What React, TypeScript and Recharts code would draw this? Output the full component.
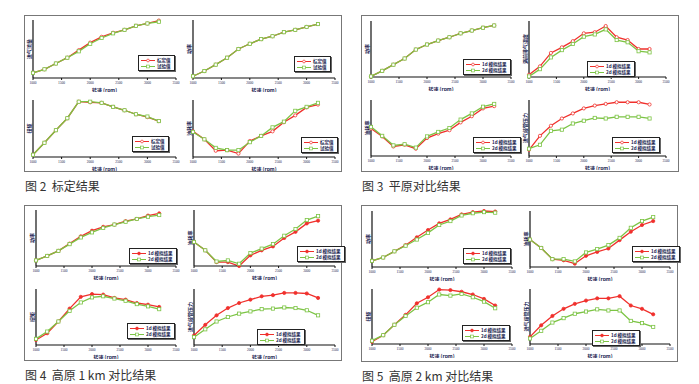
import { LineChart, Line, XAxis, YAxis, Legend } from 'recharts';

// 转速 (rpm)
const rpm = [1000, 1200, 1400, 1600, 1800, 2000, 2200, 2400, 2600, 2800, 3000, 3200];
const xTicks = [1000, 1500, 2000, 2500, 3000, 3500];
const yTicks = [0, 12.5, 25, 37.5, 50, 62.5, 75, 87.5, 100];

// 图2 标定结果 (标定值 / 试验值)
const f2aCal = [9, 15, 25, 35, 48, 61, 71, 78, 83, 90, 94, 99];
const f2aTest = [9, 15, 25, 35, 46, 59, 69, 77, 83, 90, 94, 97];
const f2bCal = [3, 12, 23, 35, 50, 59, 67, 72, 79, 83, 88, 93];
const f2bTest = [3, 12, 23, 35, 50, 59, 67, 72, 79, 83, 88, 93];
const f2cCal = [4, 25, 47, 68, 97, 96, 95, 88, 82, 75, 70, 63];
const f2cTest = [4, 25, 47, 68, 97, 97, 95, 88, 82, 75, 71, 63];
const f2dCal = [45, 31, 11, 12, 6, 28, 37, 45, 61, 73, 87, 92];
const f2dTest = [44, 31, 16, 12, 12, 26, 37, 52, 62, 81, 88, 95];

// 图3 平原对比结果
const f3aR = [1, 11, 22, 33, 49, 58, 65, 71, 78, 83, 88, 92];
const f3aG = [1, 11, 22, 33, 49, 58, 65, 71, 78, 83, 88, 92];
const f3bR = [4, 19, 43, 53, 64, 78, 80, 91, 71, 66, 50, 50];
const f3bG = [1, 14, 35, 48, 59, 72, 76, 85, 66, 62, 46, 44];
const f3cR = [49, 35, 17, 20, 13, 32, 40, 46, 60, 71, 85, 89];
const f3cG = [52, 36, 19, 21, 15, 35, 43, 50, 65, 76, 88, 93];
const f3dR = [11, 36, 54, 67, 76, 85, 90, 93, 96, 96, 96, 92];
const f3dG = [13, 20, 45, 47, 58, 63, 68, 67, 70, 70, 70, 67];

// 图4 高原 1 km 对比结果
const f4aR = [10, 18, 27, 40, 53, 63, 70, 74, 80, 84, 90, 94];
const f4aG = [10, 18, 27, 39, 51, 60, 68, 74, 79, 84, 88, 91];
const f4bR = [43, 28, 7, 7, 0, 19, 28, 35, 50, 61, 76, 81];
const f4bG = [43, 28, 8, 10, 4, 23, 31, 39, 54, 66, 82, 89];
const f4cR = [9, 21, 42, 65, 86, 91, 90, 84, 81, 75, 72, 68];
const f4cG = [11, 24, 42, 61, 76, 85, 87, 83, 79, 73, 69, 64];
const f4dR = [17, 36, 53, 66, 75, 81, 87, 89, 93, 93, 92, 84];
const f4dG = [14, 28, 42, 50, 56, 60, 64, 65, 67, 66, 62, 53];

// 图5 高原 2 km 对比结果
const f5aR = [11, 17, 28, 39, 53, 66, 78, 85, 94, 98, 100, 99];
const f5aG = [11, 17, 28, 38, 49, 61, 75, 82, 92, 96, 98, 97];
const f5bR = [49, 34, 14, 12, 6, 20, 27, 33, 48, 63, 75, 82];
const f5bG = [49, 34, 14, 14, 10, 26, 32, 39, 52, 70, 82, 89];
const f5cR = [4, 16, 35, 53, 74, 85, 99, 98, 95, 90, 82, 70];
const f5cG = [6, 16, 35, 51, 66, 76, 90, 88, 91, 85, 77, 65];
const f5dR = [13, 34, 51, 64, 73, 79, 83, 83, 87, 70, 64, 54];
const f5dG = [10, 24, 39, 47, 55, 59, 63, 61, 61, 42, 38, 31];

const RED = '#f0302c';
const GREEN = '#7cc444';
const FONT = '"Noto Sans CJK SC", "Noto Sans", sans-serif';
const W_Y = 12;
const H_X = 14;
const M_T = 2;
const M_R = 6;

const calNames = ['标定值', '试验值'];
const simNames = ['1d 模拟结果', '2d 模拟结果'];

const redDot = (filled: boolean) => (p: any) => {
  if (p.cx == null || p.cy == null) return <g />;
  return <circle cx={p.cx} cy={p.cy} r={1.6} fill={filled ? RED : '#fff'} stroke={RED} strokeWidth={0.8} />;
};

const greenDot = (p: any) => {
  if (p.cx == null || p.cy == null) return <g />;
  return <rect x={p.cx - 1.6} y={p.cy - 1.6} width={3.2} height={3.2} fill="#fff" stroke={GREEN} strokeWidth={0.8} />;
};

const yLabel = (text: string) => (props: any) => {
  const vb = props.viewBox || {};
  const cx = vb.x + vb.width - 5;
  const cy = vb.y + vb.height / 2;
  return (
    <text x={cx} y={cy} transform={`rotate(-90 ${cx} ${cy})`} textAnchor="middle" dominantBaseline="central"
      fontSize={5} fontWeight="bold" fill="#1a2450" fontFamily={FONT}>
      {text}
    </text>
  );
};

function LegendBox({ names, filled }: { names: string[]; filled: boolean }) {
  const row = (i: number) => (
    <div key={i} style={{ display: 'flex', alignItems: 'center', height: 6, lineHeight: '6px' }}>
      <svg width={14} height={5} style={{ display: 'block' }}>
        <line x1={0} y1={2.5} x2={14} y2={2.5} stroke={i === 0 ? RED : GREEN} strokeWidth={1} />
        {i === 0 ? (
          <circle cx={7} cy={2.5} r={1.4} fill={filled ? RED : '#fff'} stroke={RED} strokeWidth={0.7} />
        ) : (
          <rect x={5.6} y={1.1} width={2.8} height={2.8} fill="#fff" stroke={GREEN} strokeWidth={0.7} />
        )}
      </svg>
      <span style={{ marginLeft: 2, fontSize: 4.5, lineHeight: '6px', color: '#1a2450', fontWeight: 'bold', whiteSpace: 'nowrap' }}>{names[i]}</span>
    </div>
  );
  return (
    <div style={{ border: '1px solid #222', boxShadow: '1px 1px 0 #666', background: '#fff', padding: '1px 3px 1px 2px', fontFamily: FONT, lineHeight: '6px' }}>
      {row(0)}
      {row(1)}
    </div>
  );
}

type SubProps = {
  rect: number[];
  red: number[];
  green: number[];
  names: string[];
  label: string;
  legendAt: number[];
  filled: boolean;
};

function Sub({ rect, red, green, names, label, legendAt, filled }: SubProps) {
  const [left, top, w, h] = rect;
  const data = rpm.map((r, i) => ({ rpm: r, a: red[i], b: green[i] }));
  return (
    <div style={{ position: 'absolute', left: left - W_Y, top: top - M_T }}>
      <LineChart width={w + W_Y + M_R} height={h + H_X + M_T} data={data} margin={{ top: M_T, right: M_R, bottom: 0, left: 0 }}>
        <XAxis dataKey="rpm" type="number" domain={[1000, 3500]} ticks={xTicks} interval={0} height={H_X} tickSize={2}
          tick={{ fontSize: 3.5, fill: '#1a2450' }} axisLine={{ stroke: '#111', strokeWidth: 1.2 }} tickLine={{ stroke: '#111' }}
          label={{ value: '转速 (rpm)', position: 'insideBottom', offset: 0, fontSize: 5, fontWeight: 'bold', fill: '#1a2450', fontFamily: FONT }} />
        <XAxis xAxisId="top" orientation="top" dataKey="rpm" type="number" domain={[1000, 3500]} height={0}
          tick={false} tickLine={false} axisLine={{ stroke: '#111', strokeWidth: 1 }} />
        <YAxis type="number" domain={[0, 100]} ticks={yTicks} width={W_Y} tick={false} tickSize={2}
          axisLine={{ stroke: '#111', strokeWidth: 1.2 }} tickLine={{ stroke: '#111' }} label={yLabel(label)} />
        <YAxis yAxisId="right" orientation="right" width={0} tick={false} tickLine={false}
          axisLine={{ stroke: '#111', strokeWidth: 1 }} />
        <Line dataKey="a" name={names[0]} stroke={RED} strokeWidth={1.3} dot={redDot(filled)} isAnimationActive={false} />
        <Line dataKey="b" name={names[1]} stroke={GREEN} strokeWidth={1.3} dot={greenDot} isAnimationActive={false} />
        <Legend layout="vertical" align="center" verticalAlign="middle"
          content={() => <LegendBox names={names} filled={filled} />}
          wrapperStyle={{ left: W_Y + legendAt[0], top: M_T + legendAt[1], width: 'auto', height: 'auto' }} />
      </LineChart>
    </div>
  );
}

function Panel({ box, caption }: { box: number[]; caption: string }) {
  return (
    <>
      <div style={{ position: 'absolute', left: box[0], top: box[1], width: box[2], height: box[3], border: '1.5px solid #777', boxSizing: 'border-box' }} />
      <div style={{ position: 'absolute', left: box[0] + 1, top: box[1] + box[3] + 5, fontSize: 12, color: '#333', fontFamily: FONT, whiteSpace: 'pre' }}>
        {caption}
      </div>
    </>
  );
}

export default function App() {
  return (
    <div style={{ position: 'absolute', left: 0, top: 0, width: 699, height: 384, background: '#fff', overflow: 'hidden' }}>
      <Panel box={[24, 15, 318, 157]} caption={'图 2  标定结果'} />
      <Panel box={[361, 15, 318, 157]} caption={'图 3  平原对比结果'} />
      <Panel box={[24, 205, 318, 156]} caption={'图 4  高原 1 km 对比结果'} />
      <Panel box={[361, 205, 317, 157]} caption={'图 5  高原 2 km 对比结果'} />

      <Sub rect={[33, 20, 143, 58]} red={f2aCal} green={f2aTest} names={calNames} label="进气流量" legendAt={[105, 35]} filled={false} />
      <Sub rect={[193, 20, 142, 58]} red={f2bCal} green={f2bTest} names={calNames} label="功率" legendAt={[101, 36]} filled={false} />
      <Sub rect={[33, 100, 143, 57]} red={f2cCal} green={f2cTest} names={calNames} label="扭矩" legendAt={[99, 36]} filled={false} />
      <Sub rect={[193, 100, 142, 57]} red={f2dCal} green={f2dTest} names={calNames} label="油耗率" legendAt={[108, 37]} filled={false} />

      <Sub rect={[371, 21, 140, 56]} red={f3aR} green={f3aG} names={simNames} label="功率" legendAt={[92, 38]} filled={false} />
      <Sub rect={[529, 21, 137, 56]} red={f3bR} green={f3bG} names={simNames} label="涡前排气温度" legendAt={[58, 40]} filled={false} />
      <Sub rect={[371, 100, 140, 56]} red={f3cR} green={f3cG} names={simNames} label="油耗率" legendAt={[102, 37]} filled={false} />
      <Sub rect={[529, 100, 137, 56]} red={f3dR} green={f3dG} names={simNames} label="进气歧管压力" legendAt={[83, 37]} filled={false} />

      <Sub rect={[36, 210, 140, 56]} red={f4aR} green={f4aG} names={simNames} label="功率" legendAt={[93, 38]} filled={true} />
      <Sub rect={[194, 210, 141, 56]} red={f4bR} green={f4bG} names={simNames} label="油耗率" legendAt={[103, 36]} filled={true} />
      <Sub rect={[36, 289, 140, 56]} red={f4cR} green={f4cG} names={simNames} label="扭矩" legendAt={[91, 34]} filled={true} />
      <Sub rect={[194, 289, 141, 56]} red={f4dR} green={f4dG} names={simNames} label="进气歧管压力" legendAt={[63, 40]} filled={true} />

      <Sub rect={[372, 211, 140, 56]} red={f5aR} green={f5aG} names={simNames} label="功率" legendAt={[91, 37]} filled={true} />
      <Sub rect={[530, 211, 140, 56]} red={f5bR} green={f5bG} names={simNames} label="油耗率" legendAt={[102, 35]} filled={true} />
      <Sub rect={[372, 289, 140, 55]} red={f5cR} green={f5cG} names={simNames} label="扭矩" legendAt={[90, 36]} filled={true} />
      <Sub rect={[530, 289, 140, 55]} red={f5dR} green={f5dG} names={simNames} label="进气歧管压力" legendAt={[62, 41]} filled={true} />
    </div>
  );
}
